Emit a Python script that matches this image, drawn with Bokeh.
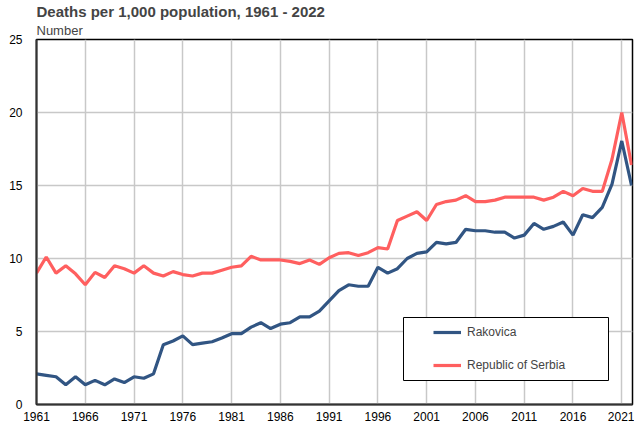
from bokeh.plotting import figure
from bokeh.models import (FixedTicker, Range1d, Legend, LegendItem,
                          BoxAnnotation, Title)
from bokeh.embed import file_html
from bokeh.resources import INLINE

# ---- data ----
years = list(range(1961, 2023))
rakovica = [2.1, 2.0, 1.9, 1.35, 1.9, 1.35, 1.65, 1.35, 1.75, 1.5,
            1.9, 1.8, 2.1, 4.1, 4.35, 4.7, 4.1, 4.2, 4.3, 4.55,
            4.85, 4.85, 5.3, 5.6, 5.2, 5.5, 5.6, 6.0, 6.0, 6.4,
            7.1, 7.8, 8.2, 8.1, 8.1, 9.4, 9.0, 9.3, 10.0, 10.35,
            10.45, 11.1, 11.0, 11.1, 12.0, 11.9, 11.9, 11.8, 11.8, 11.4,
            11.6, 12.4, 12.0, 12.2, 12.5, 11.6, 13.0, 12.8, 13.5, 15.1,
            18.05, 15.0]
serbia = [9.0, 10.1, 9.0, 9.5, 8.95, 8.2, 9.05, 8.7, 9.5, 9.3,
          9.0, 9.5, 9.0, 8.8, 9.1, 8.9, 8.8, 9.0, 9.0, 9.2,
          9.4, 9.5, 10.15, 9.9, 9.9, 9.9, 9.8, 9.65, 9.9, 9.6,
          10.05, 10.35, 10.4, 10.2, 10.4, 10.75, 10.65, 12.6, 12.9, 13.2,
          12.6, 13.7, 13.9, 14.0, 14.3, 13.9, 13.9, 14.0, 14.2, 14.2,
          14.2, 14.2, 14.0, 14.2, 14.6, 14.3, 14.8, 14.6, 14.6, 16.8,
          20.0, 16.4]
x_ticks = list(range(1961, 2022, 5))
y_ticks = [0, 5, 10, 15, 20, 25]
series_names = ["Rakovica", "Republic of Serbia"]
title_text = "Deaths per 1,000 population, 1961 - 2022"
unit_text = "Number"

FONT = "Liberation Sans"
BLUE = "#315583"
RED = "#ff5f5f"

p = figure(width=634, height=428, output_backend="svg", toolbar_location=None,
           x_range=Range1d(1961, 2022.1), y_range=Range1d(0, 25),
           min_border_left=36, min_border_right=2, min_border_top=0,
           min_border_bottom=24)
p.background_fill_color = "white"
p.border_fill_color = "white"
p.outline_line_color = "black"
p.outline_line_width = 1.5

p.xaxis.ticker = FixedTicker(ticks=x_ticks)
p.yaxis.ticker = FixedTicker(ticks=y_ticks)
for ax in (p.xaxis, p.yaxis):
    ax.major_tick_line_color = None
    ax.minor_tick_line_color = None
    ax.major_tick_out = 0
    ax.major_tick_in = 0
    ax.minor_tick_out = 0
    ax.minor_tick_in = 0
    ax.axis_line_color = "#333333"
    ax.axis_line_width = 2
    ax.major_label_text_font = FONT
    ax.major_label_text_font_size = "12px"
    ax.major_label_text_color = "black"
p.yaxis.major_label_standoff = 14
p.xaxis.major_label_standoff = 7

p.xgrid.grid_line_color = "#c8c8c8"
p.ygrid.grid_line_color = "#c8c8c8"
p.xgrid.grid_line_width = 1.5
p.ygrid.grid_line_width = 1.5

r1 = p.line(years, rakovica, line_color=BLUE, line_width=3.2)
r2 = p.line(years, serbia, line_color=RED, line_width=3.2)

# legend outer box (frame-relative screen units)
box = BoxAnnotation(left=367, right=572, bottom=24, top=87,
                    left_units="screen", right_units="screen",
                    bottom_units="screen", top_units="screen",
                    fill_color="white", fill_alpha=1.0,
                    line_color="black", line_width=1, line_alpha=1.0)
p.add_layout(box)

legend = Legend(items=[LegendItem(label=series_names[0], renderers=[r1]),
                       LegendItem(label=series_names[1], renderers=[r2])],
                location=(397, 29), padding=0, margin=0, spacing=13,
                glyph_width=28, glyph_height=20, label_standoff=6,
                label_text_font=FONT, label_text_font_size="12px",
                border_line_color=None, background_fill_alpha=0)
p.add_layout(legend, "center")

# unit label (closest to plot) and main title (outermost)
p.add_layout(Title(text=unit_text, align="left", text_font=FONT,
                   text_font_size="13px", text_font_style="normal",
                   standoff=3, offset=0), "above")
p.add_layout(Title(text=title_text, align="left", text_font=FONT,
                   text_font_size="15px", text_font_style="bold",
                   standoff=0, offset=0), "above")

open("out.html", "w").write(file_html(p, INLINE))
